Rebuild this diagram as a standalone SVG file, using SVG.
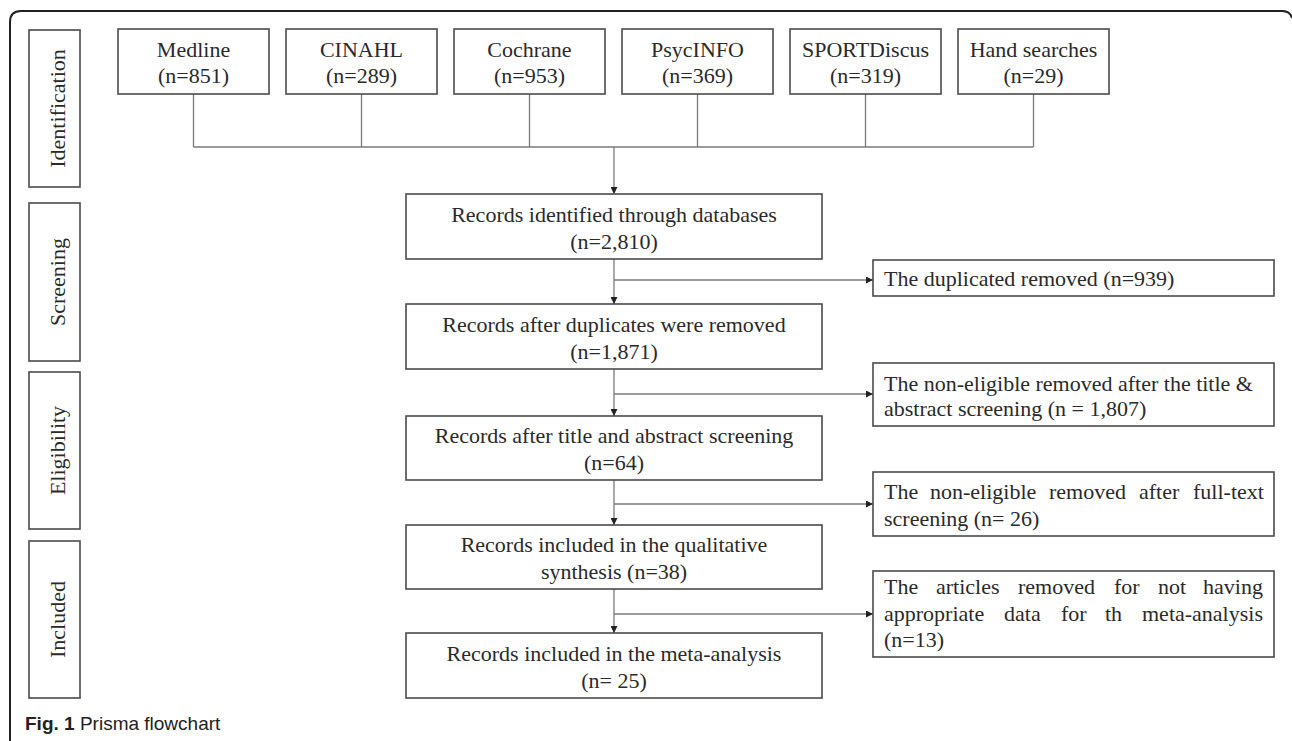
<svg xmlns="http://www.w3.org/2000/svg" width="1292" height="741" viewBox="0 0 1292 741">
<defs>
<marker id="arr" viewBox="0 0 10 10" refX="10" refY="5" markerWidth="7" markerHeight="7" markerUnits="userSpaceOnUse" orient="auto">
<path d="M0,0 L10,5 L0,10 z" fill="#222"/>
</marker>
<style>
.box{fill:#fff;stroke:#4a4a4a;stroke-width:1.6}
.t{font-family:"Liberation Serif","Times New Roman",serif;font-size:22px;fill:#2a2a2a}
.c{text-anchor:middle}
.ln{fill:none;stroke:#7a7a7a;stroke-width:1.3}
.cap{font-family:"Liberation Sans",Arial,sans-serif;font-size:19px;fill:#222}
</style>
</defs>
<rect width="1292" height="741" fill="#fff"/>
<path d="M10,741 V22 Q10,11 21,11 H1282 Q1290,11 1292,18" fill="none" stroke="#222" stroke-width="2"/>

<g id="stage-identification"><rect class="box" x="29" y="30" width="51" height="157"/><text class="t c" transform="translate(65,108.5) rotate(-90)">Identification</text></g>
<g id="stage-screening"><rect class="box" x="29" y="203" width="51" height="158"/><text class="t c" transform="translate(65,282) rotate(-90)">Screening</text></g>
<g id="stage-eligibility"><rect class="box" x="29" y="372" width="51" height="157"/><text class="t c" transform="translate(65,450.5) rotate(-90)">Eligibility</text></g>
<g id="stage-included"><rect class="box" x="29" y="541" width="51" height="157"/><text class="t c" transform="translate(65,619.5) rotate(-90)">Included</text></g>

<g id="connectors">
<path class="ln" d="M193.5,94 V147 M361.5,94 V147 M529.5,94 V147 M697.5,94 V147 M865.5,94 V147 M1033.5,94 V147 M193.5,147 H1033.5"/>
<path class="ln" d="M614,147 V194" marker-end="url(#arr)"/>
<path class="ln" d="M614,259 V304" marker-end="url(#arr)"/>
<path class="ln" d="M614,369 V416" marker-end="url(#arr)"/>
<path class="ln" d="M614,480 V525" marker-end="url(#arr)"/>
<path class="ln" d="M614,589 V633" marker-end="url(#arr)"/>
<path class="ln" d="M614,280 H873" marker-end="url(#arr)"/>
<path class="ln" d="M614,394 H873" marker-end="url(#arr)"/>
<path class="ln" d="M614,504 H873" marker-end="url(#arr)"/>
<path class="ln" d="M614,614 H873" marker-end="url(#arr)"/>
</g>

<g id="medline"><rect class="box" x="118" y="29" width="151" height="65"/><text class="t c" x="193.5" y="57">Medline</text><text class="t c" x="193.5" y="83">(n=851)</text></g>
<g id="cinahl"><rect class="box" x="286" y="29" width="151" height="65"/><text class="t c" x="361.5" y="57">CINAHL</text><text class="t c" x="361.5" y="83">(n=289)</text></g>
<g id="cochrane"><rect class="box" x="454" y="29" width="151" height="65"/><text class="t c" x="529.5" y="57">Cochrane</text><text class="t c" x="529.5" y="83">(n=953)</text></g>
<g id="psycinfo"><rect class="box" x="622" y="29" width="151" height="65"/><text class="t c" x="697.5" y="57">PsycINFO</text><text class="t c" x="697.5" y="83">(n=369)</text></g>
<g id="sportdiscus"><rect class="box" x="790" y="29" width="151" height="65"/><text class="t c" x="865.5" y="57">SPORTDiscus</text><text class="t c" x="865.5" y="83">(n=319)</text></g>
<g id="hand"><rect class="box" x="958" y="29" width="151" height="65"/><text class="t c" x="1033.5" y="57">Hand searches</text><text class="t c" x="1033.5" y="83">(n=29)</text></g>

<g id="identified"><rect class="box" x="406" y="194" width="416" height="65"/><text class="t c" x="614" y="222">Records identified through databases</text><text class="t c" x="614" y="249">(n=2,810)</text></g>
<g id="after-dup"><rect class="box" x="406" y="304" width="416" height="65"/><text class="t c" x="614" y="332">Records after duplicates were removed</text><text class="t c" x="614" y="359">(n=1,871)</text></g>
<g id="after-title"><rect class="box" x="406" y="416" width="416" height="64"/><text class="t c" x="614" y="443">Records after title and abstract screening</text><text class="t c" x="614" y="470">(n=64)</text></g>
<g id="qualitative"><rect class="box" x="406" y="525" width="416" height="64"/><text class="t c" x="614" y="552">Records included in the qualitative</text><text class="t c" x="614" y="579">synthesis (n=38)</text></g>
<g id="meta"><rect class="box" x="406" y="633" width="416" height="65"/><text class="t c" x="614" y="661">Records included in the meta-analysis</text><text class="t c" x="614" y="688">(n= 25)</text></g>

<g id="dup-removed"><rect class="box" x="873" y="260" width="401" height="36"/><text class="t" x="884" y="286">The duplicated removed (n=939)</text></g>
<g id="noneligible-title"><rect class="box" x="873" y="363" width="401" height="63"/><text class="t" x="884" y="391">The non-eligible removed after the title &amp;</text><text class="t" x="884" y="416">abstract screening (n = 1,807)</text></g>
<g id="noneligible-full"><rect class="box" x="873" y="472" width="401" height="64"/><text class="t" y="499"><tspan x="884">The</tspan><tspan x="930">non-eligible</tspan><tspan x="1049">removed</tspan><tspan x="1139">after</tspan><tspan x="1193">full-text</tspan></text><text class="t" x="884" y="526">screening (n= 26)</text></g>
<g id="no-data"><rect class="box" x="873" y="571" width="401" height="86"/><text class="t" y="594"><tspan x="884">The</tspan><tspan x="936">articles</tspan><tspan x="1018">removed</tspan><tspan x="1114">for</tspan><tspan x="1158">not</tspan><tspan x="1203">having</tspan></text><text class="t" y="621"><tspan x="884">appropriate</tspan><tspan x="1004">data</tspan><tspan x="1061">for</tspan><tspan x="1105">th</tspan><tspan x="1142">meta-analysis</tspan></text><text class="t" x="884" y="647">(n=13)</text></g>

<text class="cap" x="25" y="730"><tspan font-weight="bold">Fig. 1</tspan> Prisma flowchart</text>
</svg>
